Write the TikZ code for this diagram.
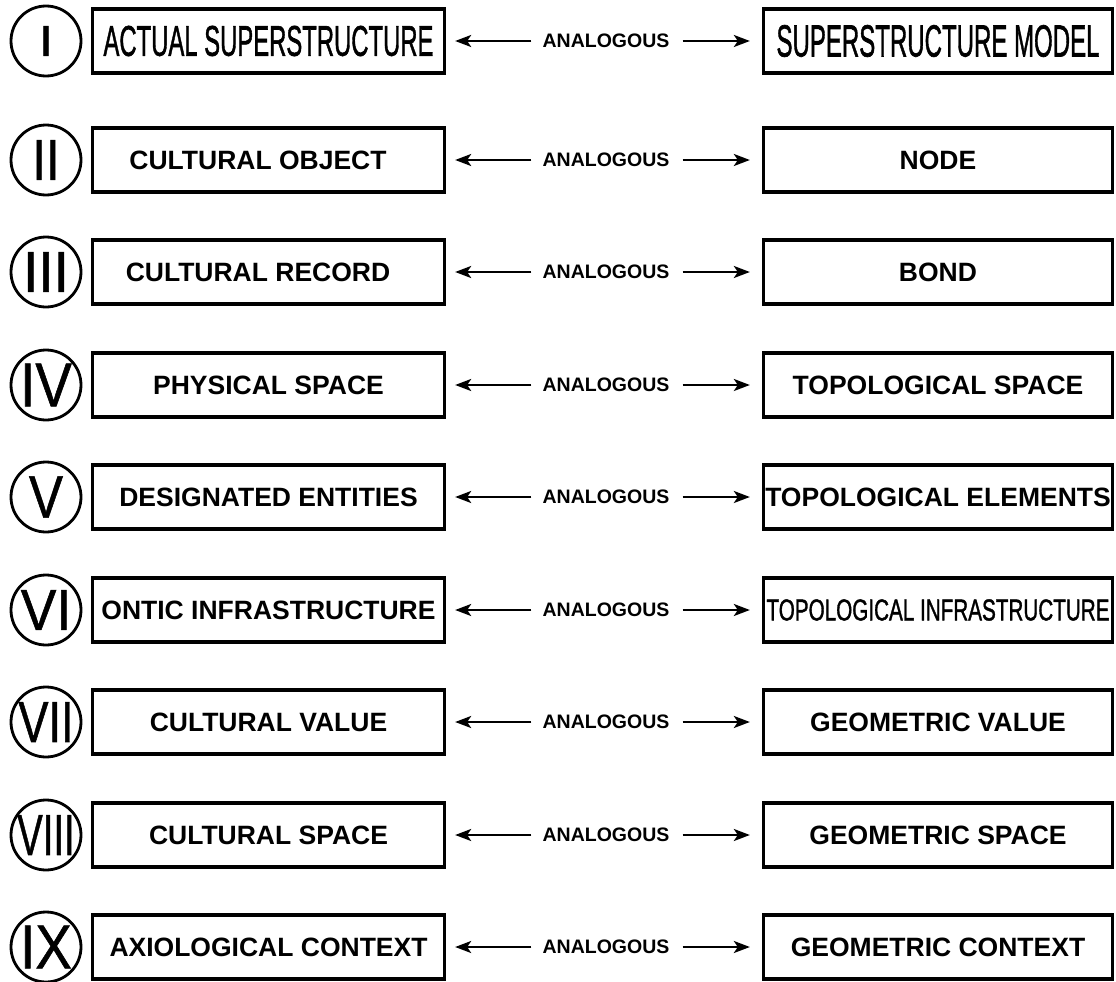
\documentclass[tikz,border=0pt]{standalone}
\usepackage{fontspec}
\usepackage{graphicx}
\setmainfont{Liberation Sans}
\newfontfamily\condfont[FakeBold=1.5]{Liberation Sans}
\newfontfamily\numfont[FakeBold=1.0]{Liberation Sans}
\usetikzlibrary{arrows.meta}
\newcommand{\condtext}[3]{\resizebox{#1}{#2}{\fontsize{30}{30}\condfont\mdseries #3}}
\newcommand{\numeral}[3]{\scalebox{#2}[1]{\fontsize{#1}{#1}\numfont\mdseries #3}}
\tikzset{
  leftbox/.style={draw, line width=3.3pt, minimum width=352pt, minimum height=64pt, inner sep=0pt,
    font=\fontsize{26.5}{30}\selectfont\bfseries},
  rightbox/.style={draw, line width=3.3pt, minimum width=349pt, minimum height=64pt, inner sep=0pt,
    font=\fontsize{26.5}{30}\selectfont\bfseries},
  circ/.style={draw, circle, line width=2.8pt, minimum size=70pt, inner sep=0pt},
  numtext/.style={inner sep=0pt},
  analog/.style={inner sep=0pt, font=\fontsize{19.5}{22}\selectfont\bfseries},
  arr/.style={line width=2.4pt, -{Stealth[length=16pt,width=12pt,inset=4pt]}},
  arrl/.style={arr, shorten <=11pt, shorten >=9pt},
  arrr/.style={arr, shorten <=13pt, shorten >=12pt}
}
\begin{document}
\begin{tikzpicture}[x=1pt,y=-1pt]
\useasboundingbox (0,0) rectangle (1116,982);
% Row I
\node[circ] (C1) at (46,41) {};
\node[numtext] (N1) at (C1.center) {\numeral{43}{1.2}{I}};
\node[leftbox] (L1) at (268.5,41) {\condtext{330pt}{30pt}{ACTUAL SUPERSTRUCTURE}};
\node[analog] (A1) at (606,41) {ANALOGOUS};
\node[rightbox] (R1) at (938,41) {\condtext{323pt}{31.5pt}{SUPERSTRUCTURE MODEL}};
\draw[arrl] (A1) -- (L1);
\draw[arrr] (A1) -- (R1);
% Row II
\node[circ] (C2) at (46,160) {};
\node[numtext] (N2) at (C2.center) {\numeral{58}{0.85}{II}};
\node[leftbox] (L2) at (268.5,160) {\hspace*{-21pt}CULTURAL OBJECT};
\node[analog] (A2) at (606,160) {ANALOGOUS};
\node[rightbox] (R2) at (938,160) {NODE};
\draw[arrl] (A2) -- (L2);
\draw[arrr] (A2) -- (R2);
% Row III
\node[circ] (C3) at (46,272) {};
\node[numtext] (N3) at (C3.center) {\numeral{58}{0.95}{III}};
\node[leftbox] (L3) at (268.5,272) {\hspace*{-21pt}CULTURAL RECORD};
\node[analog] (A3) at (606,272) {ANALOGOUS};
\node[rightbox] (R3) at (938,272) {BOND};
\draw[arrl] (A3) -- (L3);
\draw[arrr] (A3) -- (R3);
% Row IV
\node[circ] (C4) at (46,385) {};
\node[numtext] (N4) at (C4.center) {\numeral{62}{0.88}{IV}};
\node[leftbox] (L4) at (268.5,385) {PHYSICAL SPACE};
\node[analog] (A4) at (606,385) {ANALOGOUS};
\node[rightbox] (R4) at (938,385) {TOPOLOGICAL SPACE};
\draw[arrl] (A4) -- (L4);
\draw[arrr] (A4) -- (R4);
% Row V
\node[circ] (C5) at (46,497) {};
\node[numtext] (N5) at (C5.center) {\numeral{60}{0.85}{V}};
\node[leftbox] (L5) at (268.5,497) {DESIGNATED ENTITIES};
\node[analog] (A5) at (606,497) {ANALOGOUS};
\node[rightbox] (R5) at (938,497) {TOPOLOGICAL ELEMENTS};
\draw[arrl] (A5) -- (L5);
\draw[arrr] (A5) -- (R5);
% Row VI
\node[circ] (C6) at (46,610) {};
\node[numtext] (N6) at (C6.center) {\numeral{58}{0.92}{VI}};
\node[leftbox] (L6) at (268.5,610) {ONTIC INFRASTRUCTURE};
\node[analog] (A6) at (606,610) {ANALOGOUS};
\node[rightbox] (R6) at (938,610) {\condtext{343pt}{21pt}{TOPOLOGICAL INFRASTRUCTURE}};
\draw[arrl] (A6) -- (L6);
\draw[arrr] (A6) -- (R6);
% Row VII
\node[circ] (C7) at (46,722) {};
\node[numtext] (N7) at (C7.center) {\numeral{58}{0.78}{VII}};
\node[leftbox] (L7) at (268.5,722) {CULTURAL VALUE};
\node[analog] (A7) at (606,722) {ANALOGOUS};
\node[rightbox] (R7) at (938,722) {GEOMETRIC VALUE};
\draw[arrl] (A7) -- (L7);
\draw[arrr] (A7) -- (R7);
% Row VIII
\node[circ] (C8) at (46,835) {};
\node[numtext] (N8) at (C8.center) {\numeral{58}{0.66}{VIII}};
\node[leftbox] (L8) at (268.5,835) {CULTURAL SPACE};
\node[analog] (A8) at (606,835) {ANALOGOUS};
\node[rightbox] (R8) at (938,835) {GEOMETRIC SPACE};
\draw[arrl] (A8) -- (L8);
\draw[arrr] (A8) -- (R8);
% Row IX
\node[circ] (C9) at (46,947) {};
\node[numtext] (N9) at (C9.center) {\numeral{62}{0.88}{IX}};
\node[leftbox] (L9) at (268.5,947) {AXIOLOGICAL CONTEXT};
\node[analog] (A9) at (606,947) {ANALOGOUS};
\node[rightbox] (R9) at (938,947) {GEOMETRIC CONTEXT};
\draw[arrl] (A9) -- (L9);
\draw[arrr] (A9) -- (R9);
\end{tikzpicture}
\end{document}
